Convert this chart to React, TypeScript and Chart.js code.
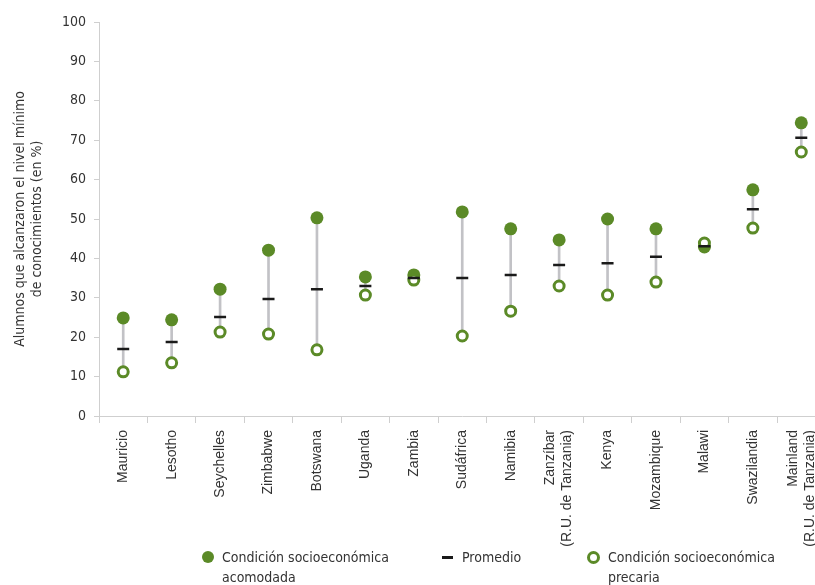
import React, { useEffect, useRef } from "react";
import { Chart, registerables } from "chart.js";

Chart.register(...registerables);

const categories: (string | string[])[] = [
  "Mauricio", "Lesotho", "Seychelles", "Zimbabwe", "Botswana", "Uganda", "Zambia",
  "Sudáfrica", "Namibia", ["Zanzíbar", "(R.U. de Tanzania)"], "Kenya", "Mozambique",
  "Malawi", "Swazilandia", ["Mainland", "(R.U. de Tanzania)"],
];
const richValues = [24.9, 24.4, 32.2, 42.1, 50.3, 35.3, 35.8, 51.8, 47.5, 44.7, 50.0, 47.5, 42.9, 57.4, 74.4];
const averageValues = [17.0, 18.8, 25.1, 29.7, 32.2, 33.0, 35.0, 35.0, 35.8, 38.3, 38.8, 40.4, 43.1, 52.5, 70.6];
const poorValues = [11.2, 13.5, 21.3, 20.8, 16.8, 30.7, 34.5, 20.3, 26.6, 33.0, 30.7, 34.0, 43.9, 47.7, 67.0];
const yTicks = [0, 10, 20, 30, 40, 50, 60, 70, 80, 90, 100];

const GREEN = "#5b8a27";
const NARROW = "'Liberation Sans Narrow', 'DejaVu Sans Condensed', 'Roboto Condensed', sans-serif";

const xLabelPlugin = {
  id: "xLabels",
  afterDraw(chart: any) {
    const scale = chart.scales.x;
    const ctx = chart.ctx;
    ctx.save();
    ctx.font = "14px 'Liberation Sans', Arial, sans-serif";
    ctx.fillStyle = "#333";
    ctx.textAlign = "right";
    ctx.textBaseline = "middle";
    const lh = 17;
    categories.forEach((lab, i) => {
      const lines = Array.isArray(lab) ? lab : [lab];
      const x = scale.getPixelForTick(i);
      const y = scale.top + 14;
      lines.forEach((ln, j) => {
        ctx.save();
        ctx.translate(x + (j - (lines.length - 1) / 2) * lh, y);
        ctx.rotate(-Math.PI / 2);
        ctx.fillText(ln, 0, 0);
        ctx.restore();
      });
    });
    ctx.restore();
  },
};

export default function App() {
  const ref = useRef<HTMLCanvasElement>(null);
  useEffect(() => {
    const ctx = ref.current!;
    const chart = new Chart(ctx, {
      type: "bar",
      data: {
        labels: categories as any,
        datasets: [
          {
            type: "bar",
            label: "rango",
            data: poorValues.map((p, i) => [p, richValues[i]]) as any,
            backgroundColor: "#c2c2c6",
            barThickness: 2,
            order: 4,
          },
          {
            type: "line",
            label: "Condición socioeconómica acomodada",
            data: richValues,
            showLine: false,
            pointRadius: 6.5,
            pointBackgroundColor: GREEN,
            pointBorderColor: GREEN,
            pointBorderWidth: 0,
            order: 3,
          } as any,
          {
            type: "line",
            label: "Condición socioeconómica precaria",
            data: poorValues,
            showLine: false,
            pointRadius: 5,
            pointBackgroundColor: "#ffffff",
            pointBorderColor: GREEN,
            pointBorderWidth: 3,
            order: 2,
          } as any,
          {
            type: "line",
            label: "Promedio",
            data: averageValues,
            showLine: false,
            pointStyle: "line",
            pointRadius: 6,
            pointBorderColor: "#1a1a1a",
            pointBorderWidth: 2.5,
            order: 1,
          } as any,
        ],
      },
      plugins: [xLabelPlugin],
      options: {
        responsive: false,
        animation: false,
        layout: { padding: { top: 22, right: 0, bottom: 0, left: 0 } },
        plugins: { legend: { display: false }, tooltip: { enabled: false } },
        scales: {
          x: {
            offset: true,
            grid: { offset: true, drawOnChartArea: false, tickLength: 7, color: "#cfcfcf" },
            border: { color: "#cfcfcf" },
            ticks: { display: false, autoSkip: false },
            afterFit: (s: any) => { s.height = 132; },
          },
          y: {
            min: 0,
            max: 100,
            afterBuildTicks: (s: any) => { s.ticks = yTicks.map((v) => ({ value: v })); },
            grid: { drawOnChartArea: false, tickLength: 5, color: "#cfcfcf" },
            border: { color: "#cfcfcf" },
            ticks: {
              padding: 8,
              color: "#333",
              font: { family: NARROW, size: 14 },
            },
            title: {
              display: true,
              text: ["Alumnos que alcanzaron el nivel mínimo", "de conocimientos (en %)"],
              color: "#333",
              font: { family: NARROW, size: 14 },
              padding: { top: 12, bottom: 0 },
            },
            afterFit: (s: any) => { s.width = 99; },
          },
        },
      },
    });
    return () => chart.destroy();
  }, []);

  const txt: React.CSSProperties = {
    position: "absolute",
    fontFamily: NARROW,
    fontSize: 14,
    color: "#333",
    lineHeight: "20px",
    whiteSpace: "nowrap",
  };
  return (
    <div style={{ position: "fixed", left: 0, top: 0, width: 815, height: 585, overflow: "hidden", background: "#fff" }}>
      <canvas ref={ref} width={834} height={548} style={{ position: "absolute", left: 0, top: 0 }} />
      <div style={{ position: "absolute", left: 202, top: 551, width: 12, height: 12, borderRadius: 6, background: GREEN }} />
      <div style={{ ...txt, left: 222, top: 547 }}>Condición socioeconómica<br />acomodada</div>
      <div style={{ position: "absolute", left: 442, top: 556, width: 11, height: 3, background: "#1a1a1a" }} />
      <div style={{ ...txt, left: 462, top: 547 }}>Promedio</div>
      <div style={{ position: "absolute", left: 587, top: 551, width: 7, height: 7, borderRadius: 7, border: `3px solid ${GREEN}`, background: "#fff" }} />
      <div style={{ ...txt, left: 608, top: 547 }}>Condición socioeconómica<br />precaria</div>
    </div>
  );
}
